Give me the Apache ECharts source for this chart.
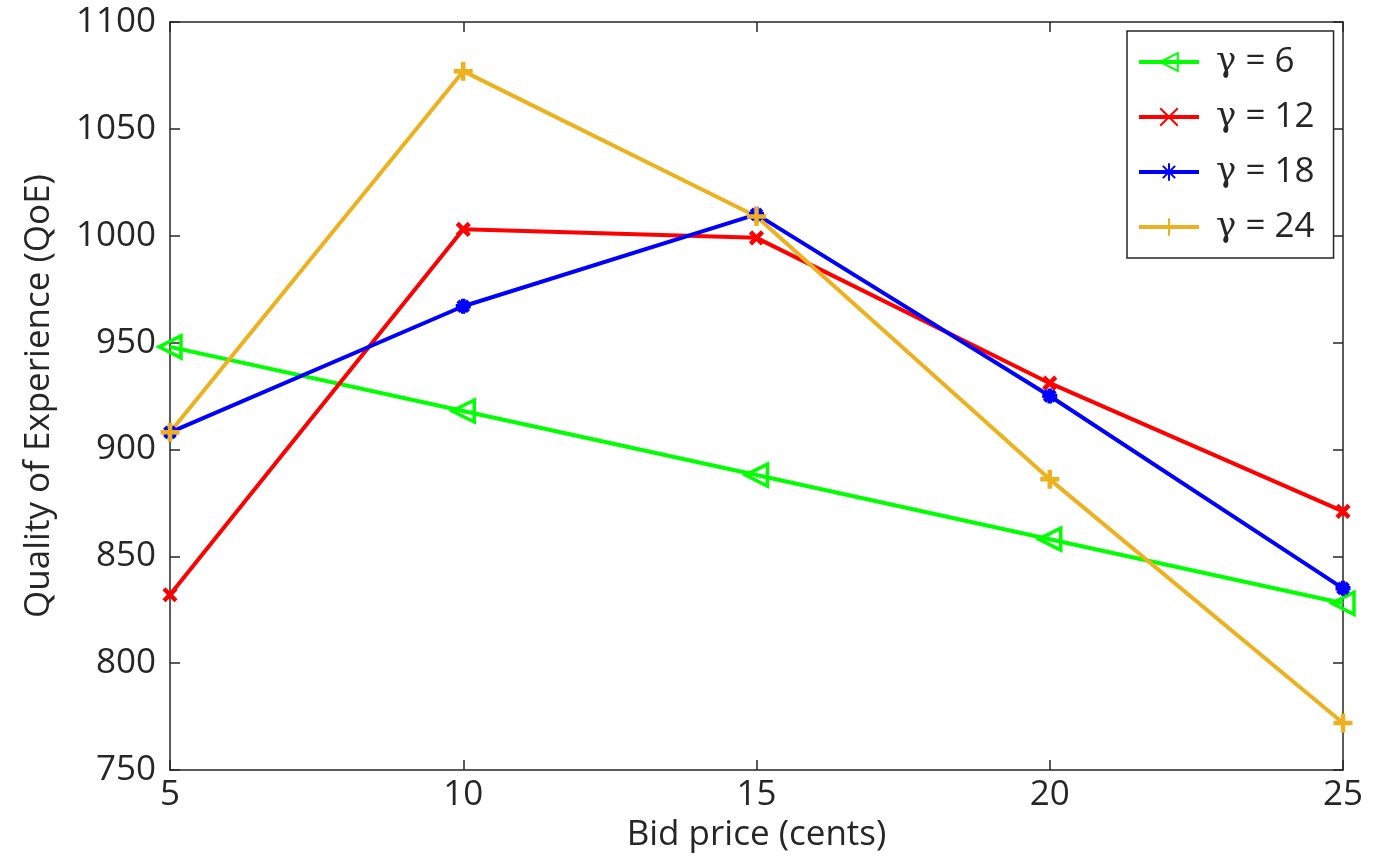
<!DOCTYPE html>
<html>
<head>
<meta charset="utf-8">
<script src="https://cdn.jsdelivr.net/npm/echarts@6/dist/echarts.min.js"></script>
<style>
  html, body { margin: 0; padding: 0; background: #fff; }
  #chart { width: 1378px; height: 862px; }
</style>
</head>
<body>
<div id="chart"></div>
<script>
// data
var bidPrice = [5, 10, 15, 20, 25]
var gammaValues = [6, 12, 18, 24]
var gammaNames = gammaValues.map(function (g) { return 'γ = ' + g })
var qoeGamma6 = [948, 918, 888, 858, 828]
var qoeGamma12 = [832, 1003, 999, 931, 871]
var qoeGamma18 = [908, 967, 1010, 925, 835]
var qoeGamma24 = [908, 1077, 1009, 886, 772]

var fontFamily = '"Open Sans", "Noto Sans", sans-serif'
var axisColor = '#262626'
var fontSize = 35

// marker shapes similar to matlab '<', 'x', '*', '+'
var markers = {
  tri: 'path://M0,5 L9,0 L9,10 Z',
  cross: 'path://M0,0 L10,10 M10,0 L0,10',
  star: 'path://M5,0 L5,10 M0,5 L10,5 M1.5,1.5 L8.5,8.5 M8.5,1.5 L1.5,8.5',
  plus: 'path://M5,0 L5,10 M0,5 L10,5'
}

function pairs(ys) {
  return bidPrice.map(function (x, i) { return [x, ys[i]] })
}

function makeSeries(name, ys, color, symbol, size, bw) {
  return {
    name: name,
    type: 'line',
    data: pairs(ys),
    symbol: symbol,
    symbolSize: size,
    showAllSymbol: true,
    lineStyle: { color: color, width: 4 },
    itemStyle: { color: 'rgba(0,0,0,0)', borderColor: color, borderWidth: bw },
    emphasis: { disabled: true },
    animation: false
  }
}

var chart = echarts.init(document.getElementById('chart'))

var tickStyle = { inside: true, length: 10, lineStyle: { color: axisColor, width: 1.5 } }

chart.setOption({
  textStyle: { fontFamily: fontFamily },
  grid: { left: 170, right: 35, top: 22, bottom: 92, containLabel: false },
  legend: {
    left: 1127,
    top: 31,
    orient: 'vertical',
    data: gammaNames,
    backgroundColor: '#fff',
    borderColor: axisColor,
    borderWidth: 1.5,
    borderRadius: 0,
    padding: [11, 19, 11, 10],
    itemGap: 15,
    itemWidth: 60,
    itemHeight: 22,
    lineStyle: { width: 4 },
    formatter: function (name) {
      return '{g|γ}' + name.slice(1)
    },
    textStyle: {
      fontSize: fontSize,
      color: axisColor,
      lineHeight: 40,
      padding: [0, 0, 0, 12],
      fontFamily: fontFamily,
      rich: {
        g: { fontFamily: '"DejaVu Serif", "Liberation Serif", serif', fontSize: 34, color: axisColor, lineHeight: 40 }
      }
    }
  },
  xAxis: [
    {
      type: 'value',
      min: 5,
      max: 25,
      interval: 5,
      name: 'Bid price (cents)',
      nameLocation: 'middle',
      nameGap: 40,
      nameTextStyle: { fontSize: fontSize, color: axisColor },
      axisLine: { lineStyle: { color: axisColor, width: 1.5 } },
      axisTick: tickStyle,
      axisLabel: { fontSize: fontSize, color: axisColor, margin: 8 },
      splitLine: { show: false }
    },
    {
      type: 'value',
      position: 'top',
      min: 5,
      max: 25,
      interval: 5,
      axisLine: { lineStyle: { color: axisColor, width: 1.5 } },
      axisTick: tickStyle,
      axisLabel: { show: false },
      splitLine: { show: false }
    }
  ],
  yAxis: [
    {
      type: 'value',
      min: 750,
      max: 1100,
      interval: 50,
      name: 'Quality of Experience (QoE)',
      nameLocation: 'middle',
      nameRotate: 90,
      nameGap: 113,
      nameTextStyle: { fontSize: fontSize, color: axisColor },
      axisLine: { show: true, lineStyle: { color: axisColor, width: 1.5 } },
      axisTick: tickStyle,
      axisLabel: { fontSize: fontSize, color: axisColor, margin: 14, formatter: function (v) { return String(v) } },
      splitLine: { show: false }
    },
    {
      type: 'value',
      position: 'right',
      min: 750,
      max: 1100,
      interval: 50,
      axisLine: { show: true, lineStyle: { color: axisColor, width: 1.5 } },
      axisTick: tickStyle,
      axisLabel: { show: false },
      splitLine: { show: false }
    }
  ],
  series: [
    makeSeries(gammaNames[0], qoeGamma6, '#00ff00', markers.tri, 22, 3.5),
    makeSeries(gammaNames[1], qoeGamma12, '#ff0000', markers.cross, 12, 4.5),
    makeSeries(gammaNames[2], qoeGamma18, '#0000ff', markers.star, 15, 4.5),
    makeSeries(gammaNames[3], qoeGamma24, '#edb120', markers.plus, 19, 4.5)
  ]
})
</script>
</body>
</html>
